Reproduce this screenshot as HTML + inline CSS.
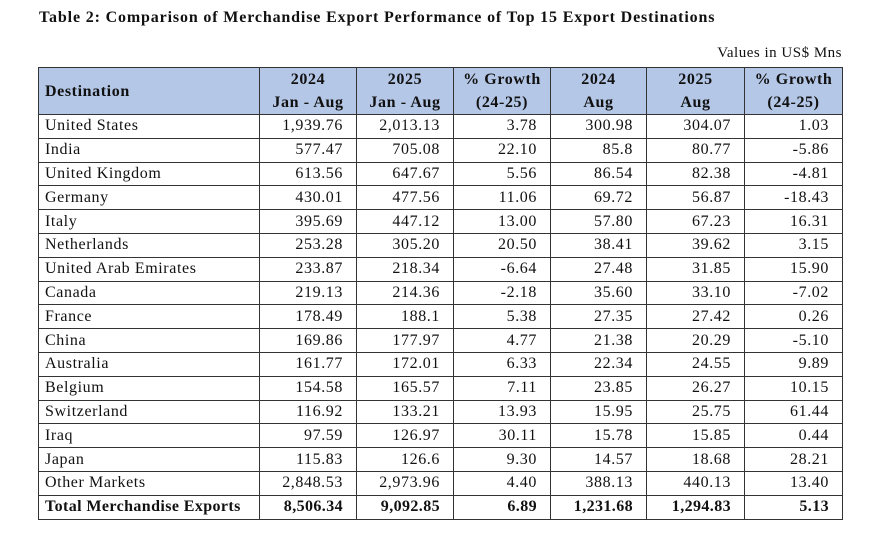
<!DOCTYPE html>
<html><head><style>
body{margin:0;background:#fff;width:885px;height:540px;position:relative;font-family:"Liberation Serif",serif;color:#111}
.t{position:absolute;left:39px;top:9px;font-weight:bold;font-size:16px;letter-spacing:0.85px}
.v{position:absolute;right:43px;top:45px;font-size:15px;letter-spacing:0.5px}
table{position:absolute;left:38px;top:67px;border-collapse:collapse;font-size:16px;letter-spacing:0.6px}
td{border:1.5px solid #333;padding:0 13px 0 6px;text-align:right;line-height:20px}
tr:not(.h){height:23.8px}
td:first-child{text-align:left}
tr.h td{background:#b4c7e7;font-weight:bold;text-align:center;height:45px;padding:0;line-height:23px}
tr.h td:first-child{text-align:left;padding-left:6px}
tr.b td{font-weight:bold;letter-spacing:0.4px}
</style></head><body>
<div class="t">Table 2: Comparison of Merchandise Export Performance of Top 15 Export Destinations</div>
<div class="v">Values in US$ Mns</div>
<table>
<colgroup><col style="width:221px"><col style="width:97px"><col style="width:97px"><col style="width:97px"><col style="width:96px"><col style="width:98px"><col style="width:98px"></colgroup>
<tr class="h"><td>Destination</td><td>2024<br>Jan - Aug</td><td>2025<br>Jan - Aug</td><td>% Growth<br>(24-25)</td><td>2024<br>Aug</td><td>2025<br>Aug</td><td>% Growth<br>(24-25)</td></tr>
<tr><td>United States</td><td>1,939.76</td><td>2,013.13</td><td>3.78</td><td>300.98</td><td>304.07</td><td>1.03</td></tr>
<tr><td>India</td><td>577.47</td><td>705.08</td><td>22.10</td><td>85.8</td><td>80.77</td><td>-5.86</td></tr>
<tr><td>United Kingdom</td><td>613.56</td><td>647.67</td><td>5.56</td><td>86.54</td><td>82.38</td><td>-4.81</td></tr>
<tr><td>Germany</td><td>430.01</td><td>477.56</td><td>11.06</td><td>69.72</td><td>56.87</td><td>-18.43</td></tr>
<tr><td>Italy</td><td>395.69</td><td>447.12</td><td>13.00</td><td>57.80</td><td>67.23</td><td>16.31</td></tr>
<tr><td>Netherlands</td><td>253.28</td><td>305.20</td><td>20.50</td><td>38.41</td><td>39.62</td><td>3.15</td></tr>
<tr><td>United Arab Emirates</td><td>233.87</td><td>218.34</td><td>-6.64</td><td>27.48</td><td>31.85</td><td>15.90</td></tr>
<tr><td>Canada</td><td>219.13</td><td>214.36</td><td>-2.18</td><td>35.60</td><td>33.10</td><td>-7.02</td></tr>
<tr><td>France</td><td>178.49</td><td>188.1</td><td>5.38</td><td>27.35</td><td>27.42</td><td>0.26</td></tr>
<tr><td>China</td><td>169.86</td><td>177.97</td><td>4.77</td><td>21.38</td><td>20.29</td><td>-5.10</td></tr>
<tr><td>Australia</td><td>161.77</td><td>172.01</td><td>6.33</td><td>22.34</td><td>24.55</td><td>9.89</td></tr>
<tr><td>Belgium</td><td>154.58</td><td>165.57</td><td>7.11</td><td>23.85</td><td>26.27</td><td>10.15</td></tr>
<tr><td>Switzerland</td><td>116.92</td><td>133.21</td><td>13.93</td><td>15.95</td><td>25.75</td><td>61.44</td></tr>
<tr><td>Iraq</td><td>97.59</td><td>126.97</td><td>30.11</td><td>15.78</td><td>15.85</td><td>0.44</td></tr>
<tr><td>Japan</td><td>115.83</td><td>126.6</td><td>9.30</td><td>14.57</td><td>18.68</td><td>28.21</td></tr>
<tr><td>Other Markets</td><td>2,848.53</td><td>2,973.96</td><td>4.40</td><td>388.13</td><td>440.13</td><td>13.40</td></tr>
<tr class="b"><td>Total Merchandise Exports</td><td>8,506.34</td><td>9,092.85</td><td>6.89</td><td>1,231.68</td><td>1,294.83</td><td>5.13</td></tr>
</table>
</body></html>
